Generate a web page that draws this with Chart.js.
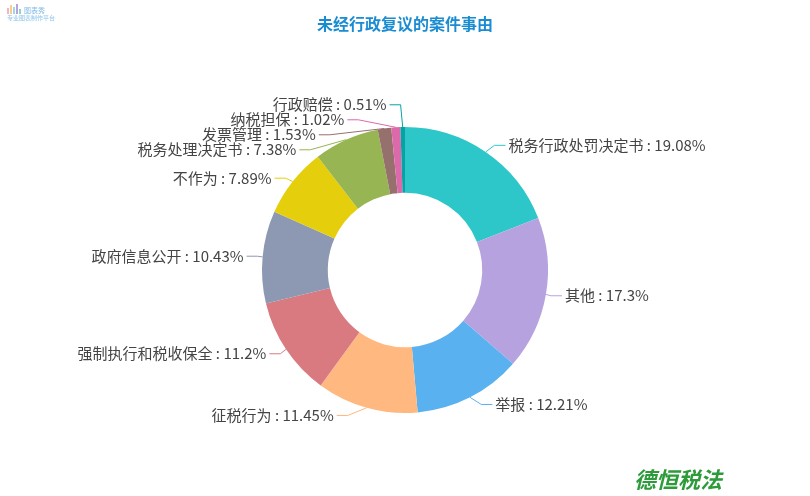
<!DOCTYPE html>
<html>
<head>
<meta charset="utf-8">
<script src="https://cdn.jsdelivr.net/npm/chart.js@4"></script>
<style>
    html, body { margin: 0; padding: 0; background: #ffffff; }
    #wrap { position: relative; width: 810px; height: 496px; }
    #title {
        position: absolute; left: 0; top: 11px; width: 810px; text-align: center;
        font: bold 16px "Noto Sans CJK SC", sans-serif; color: #1a8cd2;
    }
    #logo { position: absolute; left: 7px; top: 4px; color: #8cc4ec; font: 6px "Noto Sans CJK SC", sans-serif; line-height: 7px; white-space: nowrap; }
    #logo .bar { display: inline-block; width: 2px; margin-right: 1px; vertical-align: bottom; }
    #logo .name { font-size: 7px; color: #7fb8e6; margin-left: 2px; vertical-align: bottom; }
    #mark {
        position: absolute; left: 634px; top: 462px;
        font: italic bold 22px "Noto Sans CJK SC", sans-serif; color: #2e9b3b;
    }
</style>
</head>
<body>
<div id="wrap">
    <canvas id="chart"></canvas>
    <div id="title">未经行政复议的案件事由</div>
    <div id="logo">
        <div>
            <span class="bar" style="height:6px;background:#f4b3c2"></span><span class="bar" style="height:9px;background:#f7cf8a"></span><span class="bar" style="height:7px;background:#9fd4f2"></span><span class="bar" style="height:10px;background:#b6a2de"></span><span class="bar" style="height:5px;background:#8fd3c9"></span><span class="name">图表秀</span>
        </div>
        <div>专业图表制作平台</div>
    </div>
    <div id="mark">德恒税法</div>
</div>
<script>
// 未经行政复议的案件事由 - doughnut with ECharts style outside labels

const categories = [
    '税务行政处罚决定书', '其他', '举报', '征税行为', '强制执行和税收保全',
    '政府信息公开', '不作为', '税务处理决定书', '发票管理', '纳税担保', '行政赔偿'
];
const percents = [19.08, 17.3, 12.21, 11.45, 11.2, 10.43, 7.89, 7.38, 1.53, 1.02, 0.51];
const sliceColors = [
    '#2ec7c9', '#b6a2de', '#5ab1ef', '#ffb980', '#d87a80',
    '#8d98b3', '#e5cf0d', '#97b552', '#95706d', '#dc69aa', '#07a2a4'
];

const labelFont = '15px "Noto Sans CJK SC", sans-serif';
const labelColor = '#444444';
const lineLen = 8;
const lineLen2 = 11;
const labelHeight = 15;

// shift labels on one side so they do not overlap, then move them along the circle
function adjustSide(list, cx, cy, r, dir) {
    list.sort((a, b) => a.y - b.y);

    function shiftUp(end, delta) {
        for (let j = end; j >= 0; j--) {
            list[j].y -= delta;
            if (j > 0 && list[j].y > list[j - 1].y + list[j - 1].h) break;
        }
    }
    function shiftDown(start, end, delta) {
        for (let j = start; j < end; j++) {
            list[j].y += delta;
            if (j > start && j + 1 < end && list[j + 1].y > list[j].y + list[j].h) {
                shiftUp(j, delta / 2);
                return;
            }
        }
        shiftUp(end - 1, delta / 2);
    }

    let lastY = 0;
    for (let i = 0; i < list.length; i++) {
        const d = list[i].y - lastY;
        if (d < 0) shiftDown(i, list.length, -d);
        lastY = list[i].y + list[i].h;
    }

    function changeX(items, isDown) {
        let lastDx = isDown ? Number.MAX_VALUE : 0;
        items.forEach(item => {
            const dy = Math.abs(item.y - cy);
            let dx = dy < r + lineLen
                ? Math.sqrt(Math.pow(r + lineLen + lineLen2, 2) - dy * dy)
                : Math.abs(item.x - cx);
            if (isDown && dx >= lastDx) dx = lastDx - 10;
            if (!isDown && dx <= lastDx) dx = lastDx + 10;
            item.x = cx + dx * dir;
            lastDx = dx;
        });
    }
    changeX(list.filter(l => l.y < cy), false);
    changeX(list.filter(l => l.y >= cy), true);
}

const outsideLabels = {
    id: 'outsideLabels',
    afterDatasetsDraw(chart) {
        const ctx = chart.ctx;
        const meta = chart.getDatasetMeta(0);
        const total = percents.reduce((a, b) => a + b, 0);
        const left = [], right = [];

        meta.data.forEach((arc, i) => {
            const p = arc.getProps(['x', 'y', 'startAngle', 'endAngle', 'outerRadius'], true);
            const mid = (p.startAngle + p.endAngle) / 2;
            const dx = Math.cos(mid), dy = Math.sin(mid);
            const r = p.outerRadius;
            const x1 = p.x + r * dx, y1 = p.y + r * dy;
            const x2 = x1 + dx * lineLen, y2 = y1 + dy * lineLen;
            const dir = dx < 0 ? -1 : 1;
            const x3 = x2 + dir * lineLen2;
            const pct = Math.round(percents[i] / total * 10000) / 100;
            const item = {
                i, x1, y1, x: x3 + dir * 5, y: y2, h: labelHeight, dir,
                text: categories[i] + ' : ' + pct + '%', color: sliceColors[i]
            };
            (dir < 0 ? left : right).push(item);
        });

        const a0 = meta.data[0];
        adjustSide(left, a0.x, a0.y, a0.outerRadius, -1);
        adjustSide(right, a0.x, a0.y, a0.outerRadius, 1);

        ctx.save();
        ctx.font = labelFont;
        ctx.textBaseline = 'middle';
        left.concat(right).forEach(l => {
            const ex = l.x - l.dir * 3;
            const bx = ex - l.dir * lineLen2;
            ctx.strokeStyle = l.color;
            ctx.lineWidth = 1;
            ctx.beginPath();
            ctx.moveTo(l.x1, l.y1);
            ctx.lineTo(bx, l.y);
            ctx.lineTo(ex, l.y);
            ctx.stroke();
            ctx.fillStyle = labelColor;
            ctx.textAlign = l.dir < 0 ? 'right' : 'left';
            ctx.fillText(l.text, l.x, l.y);
        });
        ctx.restore();
    }
};

const canvas = document.getElementById('chart');
canvas.width = 810;
canvas.height = 496;
canvas.style.position = 'absolute';
canvas.style.left = '0';
canvas.style.top = '0';

new Chart(canvas, {
    type: 'doughnut',
    data: {
        labels: categories,
        datasets: [{
            data: percents,
            backgroundColor: sliceColors,
            borderWidth: 0,
            hoverOffset: 0
        }]
    },
    options: {
        responsive: false,
        animation: false,
        cutout: '54%',
        layout: {
            padding: { top: 127, bottom: 83, left: 262, right: 262 }
        },
        plugins: {
            legend: { display: false },
            tooltip: { enabled: false }
        }
    },
    plugins: [outsideLabels]
});
</script>
</body>
</html>
